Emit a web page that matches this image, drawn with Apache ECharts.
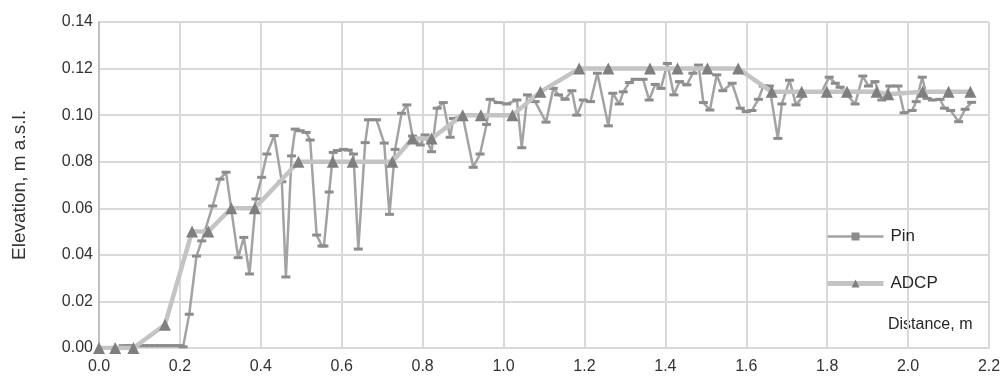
<!DOCTYPE html>
<html>
<head>
<meta charset="utf-8">
<script src="https://cdn.jsdelivr.net/npm/echarts@6/dist/echarts.min.js"></script>
<style>
  html, body { margin: 0; padding: 0; background: #fff; }
  #chart { width: 1006px; height: 381px; }
</style>
</head>
<body>
<div id="chart"></div>
<script>
// Pin profile: distance (m) and elevation (m a.s.l.)
const pinDistance = [
  0.060, 0.075, 0.100, 0.113, 0.125, 0.138, 0.150, 0.163, 0.175, 0.188, 0.200, 0.208,
  0.223, 0.241, 0.254, 0.281, 0.299, 0.314, 0.344, 0.358, 0.372, 0.388, 0.402, 0.415,
  0.433, 0.452, 0.462, 0.476, 0.485, 0.497, 0.512, 0.522, 0.538, 0.551, 0.556, 0.569,
  0.579, 0.589, 0.604, 0.616, 0.629, 0.641, 0.658, 0.666, 0.686, 0.705, 0.718, 0.732,
  0.748, 0.761, 0.775, 0.794, 0.806, 0.822, 0.836, 0.851, 0.868, 0.876, 0.899, 0.925,
  0.942, 0.958, 0.967, 0.987, 1.008, 1.033, 1.045, 1.059, 1.078, 1.105, 1.123, 1.136,
  1.152, 1.169, 1.181, 1.197, 1.215, 1.232, 1.259, 1.270, 1.286, 1.296, 1.311, 1.325,
  1.345, 1.360, 1.375, 1.389, 1.405, 1.421, 1.435, 1.453, 1.468, 1.482, 1.494, 1.510,
  1.527, 1.542, 1.565, 1.585, 1.600, 1.614, 1.630, 1.642, 1.657, 1.678, 1.688, 1.707,
  1.723, 1.749, 1.770, 1.786, 1.805, 1.820, 1.832, 1.869, 1.888, 1.902, 1.918, 1.935,
  1.955, 1.975, 1.990, 2.010, 2.020, 2.035, 2.047, 2.060, 2.079, 2.090, 2.105, 2.125,
  2.141, 2.157
];
const pinElevation = [
  0.001, 0.001, 0.001, 0.001, 0.001, 0.001, 0.001, 0.001, 0.001, 0.001, 0.001, 0.0005,
  0.0145, 0.0395, 0.046, 0.061, 0.0725, 0.0755, 0.0388, 0.0475, 0.0318, 0.064, 0.0733, 0.0833,
  0.0912, 0.0714, 0.0305, 0.0825, 0.094, 0.0933, 0.0926, 0.0893, 0.0485, 0.0438, 0.0438, 0.067,
  0.084, 0.0848, 0.0853, 0.085, 0.0833, 0.0425, 0.0882, 0.098, 0.098, 0.088, 0.0574, 0.0853,
  0.1008, 0.1044, 0.091, 0.0872, 0.0915, 0.0843, 0.103, 0.1054, 0.0905, 0.0986, 0.0996, 0.0776,
  0.0833, 0.096, 0.1068, 0.1054, 0.1048, 0.1065, 0.086, 0.1087, 0.1058, 0.097, 0.1115, 0.1087,
  0.1068, 0.1105, 0.100, 0.1065, 0.1058, 0.118, 0.0954, 0.1094, 0.1048, 0.110, 0.114, 0.1154,
  0.1154, 0.1065, 0.1132, 0.1115, 0.1222, 0.1087, 0.1144, 0.113, 0.118, 0.1215, 0.1054, 0.1022,
  0.1173, 0.1105, 0.1137, 0.103, 0.1015, 0.102, 0.1068, 0.1125, 0.1125, 0.090, 0.1048, 0.115,
  0.1044, 0.1099, 0.1099, 0.1099, 0.1163, 0.1137, 0.112, 0.1048, 0.1168, 0.1125, 0.1144, 0.1065,
  0.1125, 0.1125, 0.101, 0.102, 0.1058, 0.1163, 0.1072, 0.1065, 0.1068, 0.103, 0.102, 0.0972,
  0.1025, 0.1055
];

// ADCP profile: distance (m) and elevation (m a.s.l.)
const adcpDistance = [
  0.000, 0.040, 0.085, 0.163, 0.230, 0.270, 0.327, 0.385, 0.493, 0.578, 0.627, 0.725,
  0.775, 0.822, 0.899, 0.944, 1.022, 1.091, 1.187, 1.259, 1.362, 1.430, 1.504, 1.580,
  1.663, 1.737, 1.799, 1.849, 1.922, 1.951, 2.036, 2.100, 2.154
];
const adcpElevation = [
  0.000, 0.000, 0.000, 0.010, 0.050, 0.050, 0.060, 0.060, 0.080, 0.080, 0.080, 0.080,
  0.090, 0.090, 0.100, 0.100, 0.100, 0.110, 0.120, 0.120, 0.120, 0.120, 0.120, 0.120,
  0.110, 0.110, 0.110, 0.110, 0.110, 0.109, 0.110, 0.110, 0.110
];

const seriesNames = ['Pin', 'ADCP'];
const xAxisTitle = 'Distance, m';
const yAxisTitle = 'Elevation, m a.s.l.';

const zip = (xs, ys) => xs.map((x, i) => [x, ys[i]]);
const FONT = 'Liberation Sans, Arial, sans-serif';

const chart = echarts.init(document.getElementById('chart'), null, { renderer: 'canvas' });
chart.setOption({
  animation: false,
  backgroundColor: '#ffffff',
  grid: { left: 99, right: 17, top: 22, bottom: 33, containLabel: false },
  xAxis: {
    type: 'value',
    min: 0, max: 2.2, interval: 0.2,
    axisLine: { show: true, lineStyle: { color: '#d9d9d9', width: 2 } },
    axisTick: { show: false },
    axisLabel: {
      color: '#333333', fontFamily: FONT, fontSize: 16, margin: 11,
      formatter: v => v.toFixed(1)
    },
    splitLine: { show: true, lineStyle: { color: '#d9d9d9', width: 2 } }
  },
  yAxis: {
    type: 'value',
    min: 0, max: 0.14, interval: 0.02,
    name: yAxisTitle,
    nameLocation: 'middle',
    nameGap: 70,
    nameTextStyle: { color: '#333333', fontFamily: FONT, fontSize: 19 },
    axisLine: { show: true, lineStyle: { color: '#bfbfbf', width: 2 } },
    axisTick: { show: false },
    axisLabel: {
      color: '#333333', fontFamily: FONT, fontSize: 16, margin: 6,
      formatter: v => v.toFixed(2)
    },
    splitLine: { show: true, lineStyle: { color: '#d9d9d9', width: 2 } }
  },
  legend: {
    orient: 'vertical',
    left: 820, top: 223,
    itemWidth: 56, itemHeight: 10, itemGap: 30,
    textStyle: { color: '#262626', fontFamily: FONT, fontSize: 17, padding: [0, 0, 0, 2] },
    data: [
      { name: seriesNames[0], lineStyle: { width: 2.5 } },
      { name: seriesNames[1], lineStyle: { width: 5 } }
    ]
  },
  graphic: [{
    type: 'text',
    left: 888, top: 317,
    style: { text: xAxisTitle, fill: '#262626', font: '16px ' + FONT }
  }],
  series: [
    {
      name: seriesNames[0],
      type: 'line',
      data: zip(pinDistance, pinElevation),
      symbol: 'rect',
      symbolSize: [9, 3],
      showAllSymbol: true,
      lineStyle: { color: '#a3a3a3', width: 2.5 },
      itemStyle: { color: '#8c8c8c' },
      z: 2
    },
    {
      name: seriesNames[1],
      type: 'line',
      data: zip(adcpDistance, adcpElevation),
      symbol: 'triangle',
      symbolSize: 12,
      showAllSymbol: true,
      lineStyle: { color: '#c4c4c4', width: 4.5 },
      itemStyle: { color: '#7f7f7f' },
      z: 3
    }
  ]
});
</script>
</body>
</html>
